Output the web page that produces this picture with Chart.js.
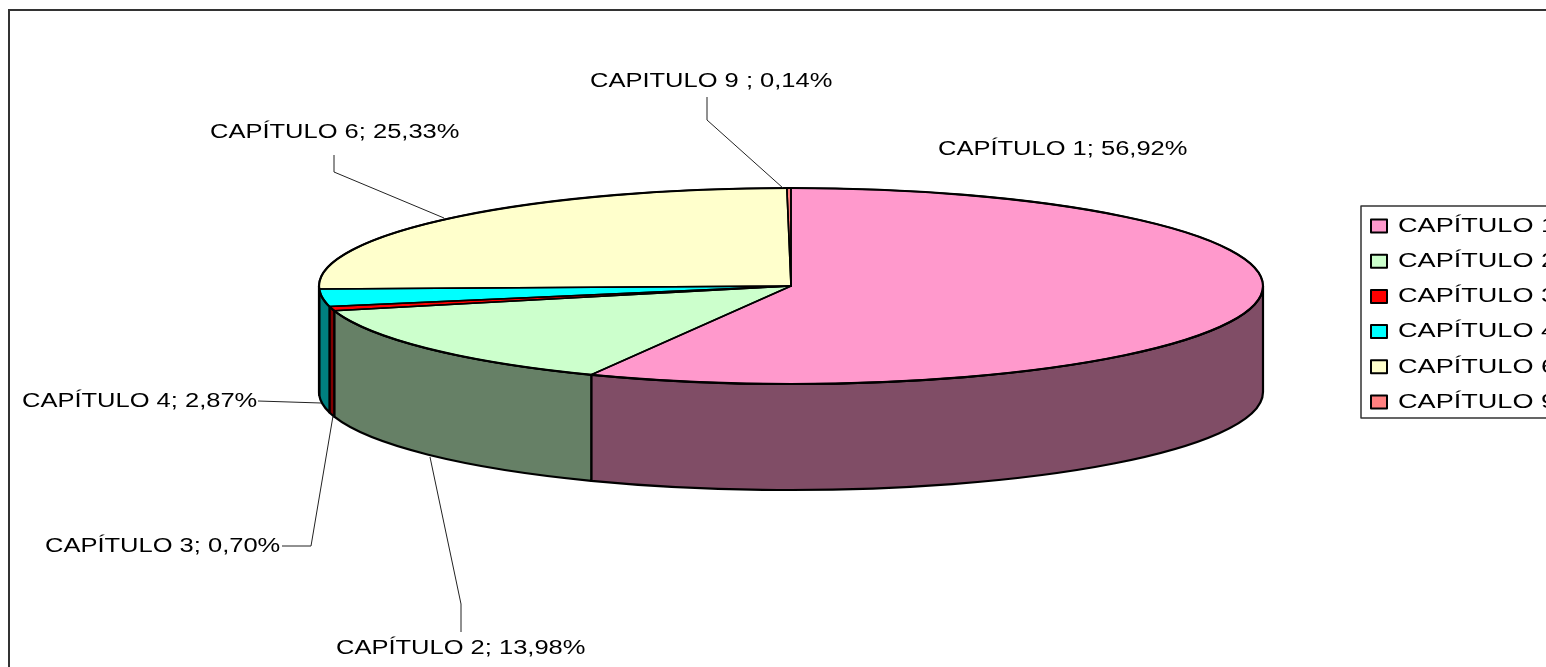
<!DOCTYPE html>
<html>
<head>
<meta charset="utf-8">
<title>Capítulos</title>
<script src="https://cdn.jsdelivr.net/npm/chart.js@4"></script>
<style>
  html, body { margin: 0; padding: 0; background: #fff; overflow: hidden; }
  canvas { display: block; }
</style>
</head>
<body>
<canvas id="pie-chart" width="1546" height="667"></canvas>
<script>
var categories = ["CAPÍTULO 1", "CAPÍTULO 2", "CAPÍTULO 3", "CAPÍTULO 4", "CAPÍTULO 6", "CAPÍTULO 9"];
var percents = [56.92, 13.98, 0.70, 2.87, 25.33, 0.14];
var dataLabels = ["CAPÍTULO 1; 56,92%", "CAPÍTULO 2; 13,98%", "CAPÍTULO 3; 0,70%", "CAPÍTULO 4; 2,87%", "CAPÍTULO 6; 25,33%", "CAPITULO 9 ; 0,14%"];
var topColors = ["#FF99CC", "#CCFFCC", "#FF0000", "#00FFFF", "#FFFFCC", "#FF8080"];
var sideColors = ["#804D66", "#668066", "#800000", "#008080", "#808066", "#804040"];

// layout of the flattened pie, in page pixels
var pie = { cx: 791, cy: 286, rx: 472, ry: 98, depth: 106 };
var labelPos = [[938, 149], [336, 648], [45, 546], [22, 401], [210, 132], [590, 81]];
var leaders = [
  null,
  [[461, 632], [461, 604], [430, 457]],
  [[282, 546], [311, 546], [333, 416]],
  [[258, 401], [321, 403]],
  [[334, 155], [334, 172], [444, 218]],
  [[707, 97], [707, 120], [783, 188]]
];
var legendBox = { x: 1361, y: 206, bottom: 418, swatchX: 1371, textX: 1398, firstRow: 226, rowGap: 35.2 };

function stretchedText(ctx, text, x, y, size, stretch) {
  // the original picture is wider than it was drawn, so the type is too
  ctx.save();
  ctx.translate(x, y);
  ctx.scale(stretch, 1);
  ctx.font = size + 'px "Liberation Sans", Arial, sans-serif';
  ctx.fillStyle = "#000";
  ctx.textAlign = "left";
  ctx.textBaseline = "middle";
  ctx.fillText(text, 0, 0);
  ctx.restore();
}

var flatPie = {
  id: "flatPie",
  beforeDatasetsDraw: function(chart) {
    var ctx = chart.ctx;
    var arcs = chart.getDatasetMeta(0).data;

    // frame, open at right and bottom like the source
    ctx.save();
    ctx.strokeStyle = "#333";
    ctx.lineWidth = 2;
    ctx.beginPath();
    ctx.moveTo(9, 667);
    ctx.lineTo(9, 10);
    ctx.lineTo(1546, 10);
    ctx.stroke();
    ctx.restore();

    // outer wall, only the front half of the rim shows
    arcs.forEach(function(arc, i) {
      var a = Math.max(arc.startAngle, 0);
      var b = Math.min(arc.endAngle, Math.PI);
      if (b <= a) return;
      ctx.beginPath();
      ctx.ellipse(pie.cx, pie.cy, pie.rx, pie.ry, 0, a, b);
      ctx.ellipse(pie.cx, pie.cy + pie.depth, pie.rx, pie.ry, 0, b, a, true);
      ctx.closePath();
      ctx.fillStyle = sideColors[i];
      ctx.fill();
      ctx.strokeStyle = "#000";
      ctx.lineWidth = 2.2;
      ctx.lineJoin = "round";
      ctx.stroke();
    });

    // squash the library's round pie onto the ellipse
    var first = arcs[0];
    ctx.save();
    ctx.translate(pie.cx, pie.cy);
    ctx.scale(pie.rx / first.outerRadius, pie.ry / first.outerRadius);
    ctx.translate(-first.x, -first.y);
  },
  afterDatasetsDraw: function(chart) {
    var ctx = chart.ctx;
    var arcs = chart.getDatasetMeta(0).data;
    ctx.restore();

    // thin radial edges so the small slices keep their colour, heavier rim
    ctx.strokeStyle = "#000";
    ctx.lineWidth = 1.6;
    ctx.lineJoin = "round";
    arcs.forEach(function(arc) {
      ctx.beginPath();
      ctx.moveTo(pie.cx, pie.cy);
      ctx.ellipse(pie.cx, pie.cy, pie.rx, pie.ry, 0, arc.startAngle, arc.endAngle);
      ctx.closePath();
      ctx.stroke();
    });
    ctx.lineWidth = 2.2;
    ctx.beginPath();
    ctx.ellipse(pie.cx, pie.cy, pie.rx, pie.ry, 0, 0, Math.PI * 2);
    ctx.stroke();

    // leader lines and data labels
    ctx.strokeStyle = "#222";
    ctx.lineWidth = 1;
    leaders.forEach(function(line) {
      if (!line) return;
      ctx.beginPath();
      line.forEach(function(p, j) {
        if (j === 0) ctx.moveTo(p[0], p[1]);
        else ctx.lineTo(p[0], p[1]);
      });
      ctx.stroke();
    });
    dataLabels.forEach(function(text, i) {
      stretchedText(ctx, text, labelPos[i][0], labelPos[i][1], 20, 1.275);
    });

    // legend runs off the right edge in the source
    ctx.strokeStyle = "#333";
    ctx.lineWidth = 1.5;
    ctx.strokeRect(legendBox.x, legendBox.y, 400, legendBox.bottom - legendBox.y);
    chart.data.labels.forEach(function(name, i) {
      var y = legendBox.firstRow + i * legendBox.rowGap;
      ctx.fillStyle = chart.data.datasets[0].backgroundColor[i];
      ctx.fillRect(legendBox.swatchX, y - 6.5, 16, 13);
      ctx.strokeStyle = "#000";
      ctx.lineWidth = 2;
      ctx.strokeRect(legendBox.swatchX, y - 6.5, 16, 13);
      stretchedText(ctx, name, legendBox.textX, y, 21, 1.29);
    });
  }
};

new Chart(document.getElementById("pie-chart"), {
  type: "pie",
  data: {
    labels: categories,
    datasets: [{
      data: percents,
      backgroundColor: topColors,
      borderWidth: 0,
      clip: false
    }]
  },
  options: {
    responsive: false,
    animation: false,
    events: [],
    plugins: {
      legend: { display: false },
      tooltip: { enabled: false }
    }
  },
  plugins: [flatPie]
});
</script>
</body>
</html>
